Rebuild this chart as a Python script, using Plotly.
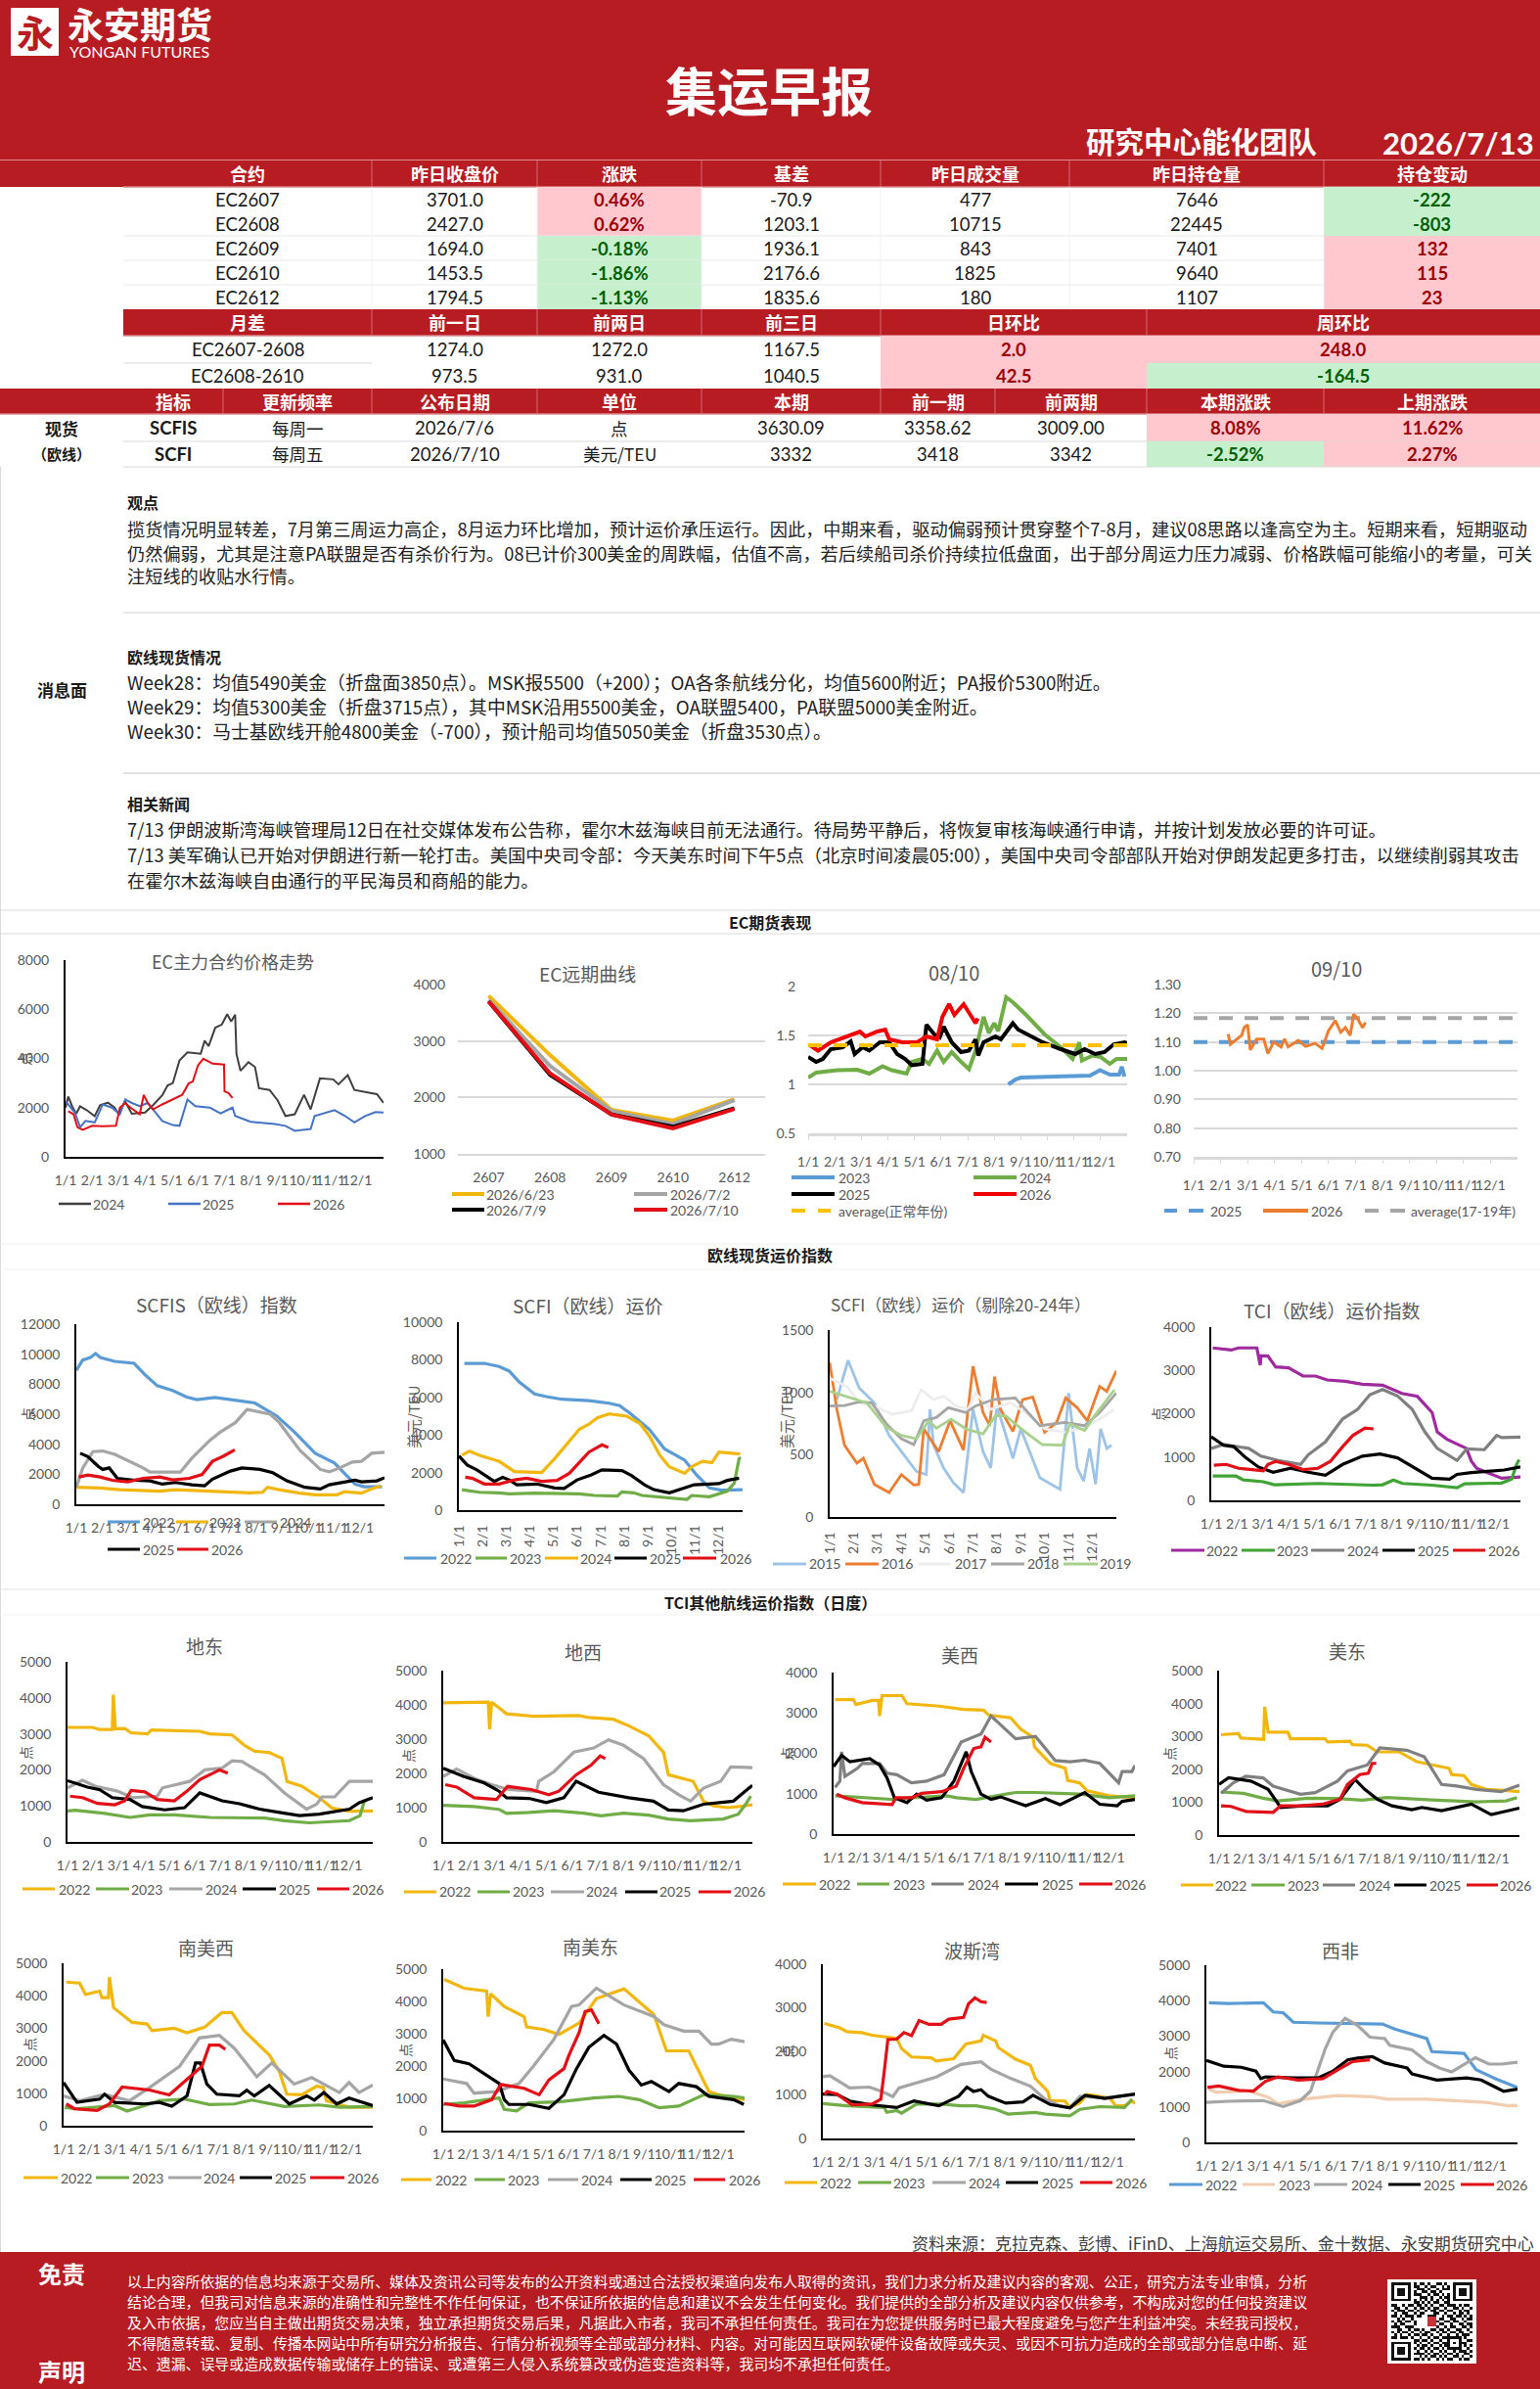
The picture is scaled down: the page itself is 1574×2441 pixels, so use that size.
import plotly.graph_objects as go

W, H = 1574, 2441
RED = "#B71C23"
INK = "#1A1A1A"
AXIS_GREY = "#595959"
GRID = "#D9D9D9"
PINK, GREEN_BG = "#FFC7CE", "#C6EFCE"
PINK_TX, GREEN_TX = "#9C0006", "#006100"
FONT = "Lato, 'Noto Sans CJK SC', 'Noto Sans', sans-serif"
CJK = "'Noto Sans CJK SC', Lato, sans-serif"

# ---------- daily table ----------
CONTRACT_HEAD = ["合约", "昨日收盘价", "涨跌", "基差", "昨日成交量", "昨日持仓量", "持仓变动"]
CONTRACTS = ["EC2607", "EC2608", "EC2609", "EC2610", "EC2612"]
CLOSE = [3701.0, 2427.0, 1694.0, 1453.5, 1794.5]
CHANGE = ["0.46%", "0.62%", "-0.18%", "-1.86%", "-1.13%"]
BASIS = ["-70.9", "1203.1", "1936.1", "2176.6", "1835.6"]
VOLUME = ["477", "10715", "843", "1825", "180"]
OPEN_INT = ["7646", "22445", "7401", "9640", "1107"]
OI_CHANGE = ["-222", "-803", "132", "115", "23"]

SPREAD_HEAD = ["月差", "前一日", "前两日", "前三日", "日环比", "周环比"]
SPREADS = ["EC2607-2608", "EC2608-2610"]
SPREAD_D1 = ["1274.0", "973.5"]
SPREAD_D2 = ["1272.0", "931.0"]
SPREAD_D3 = ["1167.5", "1040.5"]
SPREAD_DOD = ["2.0", "42.5"]
SPREAD_WOW = ["248.0", "-164.5"]

SPOT_HEAD = ["指标", "更新频率", "公布日期", "单位", "本期", "前一期", "前两期", "本期涨跌", "上期涨跌"]
SPOT_ROWS = [
    ["SCFIS", "每周一", "2026/7/6", "点", "3630.09", "3358.62", "3009.00", "8.08%", "11.62%"],
    ["SCFI", "每周五", "2026/7/10", "美元/TEU", "3332", "3418", "3342", "-2.52%", "2.27%"],
]

# ---------- commentary ----------
VIEW_LINES = [
    "揽货情况明显转差，7月第三周运力高企，8月运力环比增加，预计运价承压运行。因此，中期来看，驱动偏弱预计贯穿整个7-8月，建议08思路以逢高空为主。短期来看，短期驱动",
    "仍然偏弱，尤其是注意PA联盟是否有杀价行为。08已计价300美金的周跌幅，估值不高，若后续船司杀价持续拉低盘面，出于部分周运力压力减弱、价格跌幅可能缩小的考量，可关",
    "注短线的收贴水行情。",
]
SPOT_LINES = [
    "Week28：均值5490美金（折盘面3850点）。MSK报5500（+200）；OA各条航线分化，均值5600附近；PA报价5300附近。",
    "Week29：均值5300美金（折盘3715点），其中MSK沿用5500美金，OA联盟5400，PA联盟5000美金附近。",
    "Week30：马士基欧线开舱4800美金（-700），预计船司均值5050美金（折盘3530点）。",
]
NEWS_LINES = [
    "7/13 伊朗波斯湾海峡管理局12日在社交媒体发布公告称，霍尔木兹海峡目前无法通行。待局势平静后，将恢复审核海峡通行申请，并按计划发放必要的许可证。",
    "7/13 美军确认已开始对伊朗进行新一轮打击。美国中央司令部：今天美东时间下午5点（北京时间凌晨05:00），美国中央司令部部队开始对伊朗发起更多打击，以继续削弱其攻击",
    "在霍尔木兹海峡自由通行的平民海员和商船的能力。",
]
DISCLAIMER = [
    "以上内容所依据的信息均来源于交易所、媒体及资讯公司等发布的公开资料或通过合法授权渠道向发布人取得的资讯，我们力求分析及建议内容的客观、公正，研究方法专业审慎，分析",
    "结论合理，但我司对信息来源的准确性和完整性不作任何保证，也不保证所依据的信息和建议不会发生任何变化。我们提供的全部分析及建议内容仅供参考，不构成对您的任何投资建议",
    "及入市依据，您应当自主做出期货交易决策，独立承担期货交易后果，凡据此入市者，我司不承担任何责任。我司在为您提供服务时已最大程度避免与您产生利益冲突。未经我司授权，",
    "不得随意转载、复制、传播本网站中所有研究分析报告、行情分析视频等全部或部分材料、内容。对可能因互联网软硬件设备故障或失灵、或因不可抗力造成的全部或部分信息中断、延",
    "迟、遗漏、误导或造成数据传输或储存上的错误、或遭第三人侵入系统篡改或伪造变造资料等，我司均不承担任何责任。",
]

MONTHS = ["1/1", "2/1", "3/1", "4/1", "5/1", "6/1", "7/1", "8/1", "9/1", "10/1", "11/1", "12/1"]
TENORS = ["2607", "2608", "2609", "2610", "2612"]

# ---------- series: (months since Jan 1, value) ----------
EC_MAIN_2024 = [(0,2000),(0.1,2450),(0.25,2050),(0.4,1750),(0.55,2050),(0.8,1900),(1.1,1650),(1.3,2100),(1.6,2200),(1.85,2000),(2.0,1750),(2.25,2250),(2.5,1750),(3,1800),(3.3,2100),(3.65,2500),(3.85,2900),(4.05,3000),(4.3,3920),(4.6,4250),(5.1,4190),(5.25,4720),(5.4,4500),(5.65,5250),(5.9,5380),(6.1,5800),(6.25,5500),(6.4,5780),(6.45,4180),(6.6,3500),(6.9,3850),(7.15,3650),(7.3,2790),(7.7,2720),(8.0,2300),(8.3,1660),(8.65,1730),(9,2520),(9.25,1930),(9.6,3190),(10.1,3150),(10.3,2950),(10.65,3320),(10.9,2720),(11.5,2600),(11.75,2550),(12,2190)]
EC_MAIN_2025 = [(0,2260),(0.35,1800),(0.55,1200),(0.75,1460),(1.1,1400),(1.4,2130),(1.75,2000),(2.05,1730),(2.25,2330),(2.5,2190),(2.8,2060),(3.1,2190),(3.4,1800),(3.65,1460),(4.05,1290),(4.3,1260),(4.6,2330),(4.9,2060),(5.45,2000),(5.85,1770),(6.3,2000),(6.4,1660),(7,1420),(7.9,1330),(8.3,1260),(8.65,1060),(9.25,1130),(9.4,1660),(10.15,1900),(10.55,1660),(10.9,1400),(11.3,1660),(11.7,1820),(12,1800)]
EC_MAIN_2026 = [(0.1,1860),(0.3,1730),(0.45,1200),(0.65,1100),(1.0,1260),(1.4,1240),(1.9,1260),(2.05,2000),(2.25,2190),(2.45,2000),(2.8,1730),(2.95,2520),(3.1,2190),(3.3,1930),(3.65,2130),(4.05,2330),(4.4,2520),(4.65,2990),(4.8,3060),(5.0,3720),(5.2,3990),(5.55,3790),(5.98,3750),(6.0,2660),(6.15,2590),(6.3,2390)]

CURVE_0623 = [3800, 2750, 1780, 1590, 1970]
CURVE_0702 = [3730, 2560, 1760, 1530, 1950]
CURVE_0709 = [3700, 2400, 1700, 1480, 1810]
CURVE_0710 = CLOSE

SP0810_2023 = [(7.53,1.0),(7.8,1.05),(8,1.07),(10.2,1.085),(10.6,1.09),(10.98,1.145),(11.35,1.10),(11.7,1.10),(11.8,1.18),(11.9,1.08)]
SP0810_2024 = [(0,1.07),(0.3,1.12),(1.1,1.145),(1.85,1.15),(2.3,1.11),(2.8,1.185),(3.15,1.145),(3.7,1.11),(3.9,1.23),(4.3,1.26),(4.55,1.21),(4.85,1.345),(5.1,1.23),(5.4,1.33),(5.7,1.245),(6.05,1.155),(6.3,1.345),(6.6,1.69),(6.8,1.525),(7,1.625),(7.15,1.545),(7.45,1.89),(7.7,1.84),(8.2,1.71),(8.9,1.51),(9.5,1.38),(9.95,1.26),(10.2,1.43),(10.3,1.245),(10.7,1.295),(11,1.28),(11.35,1.21),(11.6,1.26),(12,1.26)]
SP0810_2025 = [(0,1.28),(0.3,1.23),(0.55,1.26),(0.85,1.36),(1.3,1.38),(1.6,1.44),(1.75,1.31),(2.05,1.38),(2.3,1.345),(2.7,1.43),(3.05,1.43),(3.35,1.31),(3.65,1.26),(3.9,1.195),(4.3,1.21),(4.45,1.61),(4.75,1.51),(4.95,1.48),(5.1,1.59),(5.4,1.43),(5.75,1.33),(6.05,1.345),(6.3,1.46),(6.4,1.295),(6.6,1.43),(7.05,1.49),(7.25,1.46),(7.7,1.625),(7.9,1.56),(8.75,1.44),(9.5,1.36),(10.05,1.31),(10.4,1.36),(10.8,1.31),(11.15,1.33),(11.5,1.41),(11.9,1.43),(12,1.42)]
SP0810_2026 = [(0.1,1.395),(0.37,1.345),(0.85,1.43),(1.4,1.49),(1.95,1.54),(2.15,1.49),(2.6,1.54),(2.9,1.56),(3.05,1.46),(3.55,1.43),(4.1,1.43),(4.45,1.49),(4.85,1.46),(5.05,1.69),(5.3,1.82),(5.5,1.71),(5.85,1.82),(6.15,1.69),(6.3,1.625),(6.38,1.675)]
SP0810_AVG = [(0,1.40),(12,1.40)]

SP0910_2025 = [(0,1.10),(12,1.10)]
SP0910_AVG = [(0,1.183),(12,1.183)]
SP0910_2026 = [(1.28,1.128),(1.36,1.092),(1.78,1.123),(1.87,1.15),(2.0,1.16),(2.1,1.072),(2.33,1.11),(2.6,1.11),(2.75,1.06),(2.97,1.10),(3.24,1.083),(3.37,1.11),(3.5,1.083),(3.88,1.105),(4.15,1.085),(4.5,1.095),(4.76,1.078),(5,1.14),(5.25,1.174),(5.45,1.134),(5.62,1.15),(5.8,1.123),(5.93,1.197),(6.08,1.18),(6.26,1.15),(6.36,1.168)]

SCFIS_2022 = [(0,8920),(0.25,9610),(0.55,9780),(0.75,10040),(0.93,9780),(1.5,9520),(2.25,9390),(2.7,8590),(3.15,7900),(3.75,7580),(4.3,7140),(4.7,6970),(5.4,7120),(6.2,6930),(6.95,6750),(7.8,5890),(8.5,4800),(9.3,3400),(10.05,2750),(10.85,1340),(11.2,1170),(11.9,1170)]
SCFIS_2023 = [(0,1130),(0.93,1080),(1.7,970),(2.7,910),(3.25,870),(3.85,970),(4.8,910),(5.8,800),(6.75,760),(7.25,800),(7.45,1130),(7.9,970),(8.7,740),(9.3,630),(10.15,630),(10.45,840),(11.1,740),(11.5,1020),(11.85,1230)]
SCFIS_2024 = [(0,1130),(0.25,2420),(0.65,3510),(1.03,3550),(1.5,3330),(2.1,2860),(2.6,2420),(2.87,2140),(4.05,2140),(4.5,3070),(5.2,4260),(5.6,4800),(6.2,5450),(6.65,6320),(7.55,6000),(7.9,5450),(8.7,3610),(9.5,2320),(9.85,2160),(10.25,2420),(10.75,2810),(11.1,2860),(11.5,3400),(12,3460)]
SCFIS_2025 = [(0.15,3400),(0.45,3180),(0.85,2530),(1.03,2320),(1.28,2420),(1.6,1730),(2.3,1600),(2.87,1560),(3.35,1340),(3.85,1450),(4.5,1300),(5,1230),(5.3,1670),(6,2210),(6.45,2420),(7.15,2320),(7.65,2100),(8.2,1560),(8.9,1130),(9.5,1020),(9.85,1300),(10.45,1450),(10.85,1600),(11.1,1490),(11.7,1560),(12,1770)]
SCFIS_2026 = [(0.1,1820),(0.45,1950),(0.93,1820),(1.4,1600),(2,1490),(2.6,1730),(3.25,1820),(3.75,1620),(4.4,1730),(4.9,1990),(5.3,2860),(5.7,3180),(6.17,3630.09)]

SCFI_2022 = [(0.23,7810),(1.08,7810),(1.7,7640),(2.13,7400),(2.55,6820),(3.2,6180),(3.7,6040),(4.35,5900),(5.5,5830),(6.35,5690),(6.8,5560),(7.3,5090),(8.05,4310),(8.7,3260),(9.55,2660),(10.05,1880),(10.6,1180),(11.1,1060),(12,1090)]
SCFI_2023 = [(0.13,1090),(0.87,950),(1.7,920),(2.13,870),(3.2,900),(5.1,870),(5.73,780),(6.7,750),(6.9,970),(7.4,920),(7.75,780),(8.9,630),(9.65,570),(9.85,780),(10.6,710),(11.35,1010),(11.65,1440),(11.85,2740),(11.92,2800)]
SCFI_2024 = [(0.13,2920),(0.45,3140),(0.87,2920),(1.4,2690),(1.7,2600),(2.35,2050),(3.5,2000),(4.05,2740),(4.45,3350),(5.1,4310),(5.5,4570),(5.85,4910),(6.35,5120),(7.1,5000),(7.65,4620),(8.05,3960),(8.5,2920),(8.9,2310),(9.55,1960),(9.85,2310),(10.3,2600),(10.7,2530),(11,3090),(11.9,2990)]
SCFI_2025 = [(0,2880),(0.35,2400),(0.76,2140),(1.2,1750),(1.5,1530),(1.85,1740),(2.13,1610),(2.45,1350),(3.3,1390),(4.05,1180),(4.45,1150),(5,1610),(5.6,1880),(6.05,2140),(6.9,2100),(7.3,1840),(7.85,1350),(8.25,1090),(8.9,920),(9.55,1180),(9.95,1350),(11,1410),(11.35,1580),(11.85,1700)]
SCFI_2026 = [(0.27,1750),(0.55,1700),(1.08,1390),(1.7,1390),(2.35,1610),(2.87,1700),(3.5,1530),(4.15,1580),(4.67,1960),(5.1,2570),(5.5,3090),(6.05,3470),(6.32,3332)]

SCFI_2015 = [(0.3,942),(0.77,1257),(1.24,1034),(1.87,916),(2.49,654),(3.1,497),(3.63,366),(4.04,340),(4.2,864),(4.35,576),(4.77,393),(5.18,275),(5.6,196),(6,864),(6.42,524),(6.74,393),(7,890),(7.67,471),(8,707),(8.8,314),(9.64,222),(9.95,864),(10,995),(10.36,393),(10.63,288),(10.88,550),(11.13,262),(11.34,707),(11.6,550),(11.8,576)]
SCFI_2016 = [(0,1238),(0.3,864),(0.62,576),(1.14,432),(1.41,471),(1.87,262),(2.49,196),(3,340),(3.52,257),(3.73,262),(3.94,707),(4.56,524),(5.04,772),(5.6,537),(6,1210),(6.42,838),(6.7,733),(6.9,1126),(7.15,864),(7.67,686),(7.94,864),(8.08,942),(8.5,963),(9,681),(9.5,759),(9.88,955),(10.36,877),(10.78,772),(11.3,1047),(11.6,1008),(12,1173)]
SCFI_2017 = [(0,1113),(0.72,1047),(1.24,916),(1.87,890),(2.6,825),(3.42,851),(3.83,1021),(4.35,942),(4.77,969),(5.3,890),(5.8,864),(6.1,995),(6.74,864),(7.56,916),(8.2,838),(9,707),(9.85,681),(10.67,720),(11.3,785),(11.9,864)]
SCFI_2018 = [(0,890),(0.62,895),(1.24,924),(1.76,916),(2.38,746),(3,628),(3.52,581),(3.94,772),(4.46,798),(4.97,877),(5.7,838),(6.1,890),(6.84,942),(7.77,955),(8.3,838),(8.8,733),(9.85,759),(10.67,733),(11.3,838),(12,995)]
SCFI_2019 = [(0,1008),(0.93,955),(1.55,916),(2.38,720),(3,654),(3.63,628),(4.15,772),(4.46,712),(5.08,785),(5.7,707),(6.42,667),(6.94,812),(7.36,812),(8.2,681),(8.9,581),(9.74,576),(10.05,746),(10.67,694),(11.09,812),(11.92,1021)]

TCI_2022 = [(0.06,3520),(0.77,3470),(1.06,3520),(1.77,3520),(1.9,3120),(1.93,3340),(2.2,3330),(2.5,3080),(3,3060),(3.56,2870),(4.05,2870),(4.5,2780),(5.2,2750),(5.87,2680),(6.65,2660),(6.94,2590),(7.4,2470),(8,2400),(8.57,2030),(8.77,1580),(9.15,1410),(9.9,1200),(10.1,900),(10.3,740),(10.9,600),(11.27,510),(12,540)]
TCI_2023 = [(0.06,560),(0.96,560),(1.25,470),(2.02,430),(2.45,360),(4.14,390),(6.26,350),(6.65,360),(7.07,470),(7.42,390),(8.57,350),(9.54,290),(9.83,380),(11.27,400),(11.66,490),(11.85,830),(11.95,940)]
TCI_2024 = [(0,1200),(0.48,1290),(1.45,1200),(1.93,1020),(2.6,920),(3.47,830),(3.76,1050),(4.43,1350),(5.1,1880),(5.68,2100),(6.16,2440),(6.65,2560),(7.23,2410),(7.8,2100),(8.29,1580),(8.77,1200),(9.54,920),(9.92,1190),(10.6,1170),(11.08,1500),(11.27,1450),(12,1460)]
TCI_2025 = [(0,1470),(0.48,1270),(0.87,1240),(1.35,980),(1.83,770),(2.4,650),(3.08,740),(3.76,650),(4.43,580),(5.1,830),(5.87,1020),(6.55,1070),(7.23,980),(8,710),(8.57,510),(9.25,490),(9.54,600),(10.1,640),(10.8,680),(11.37,700),(12,770)]
TCI_2026 = [(0.1,810),(0.58,830),(1.06,740),(2.02,680),(2.2,830),(2.5,900),(3,830),(3.56,710),(4.14,740),(4.62,900),(5.1,1240),(5.5,1500),(5.97,1670),(6.3,1650)]

MED_E_2022 = [(0,3180),(0.98,3180),(1.27,3120),(1.76,3120),(1.8,4090),(1.88,3140),(2.25,3150),(2.5,3030),(3.14,3000),(3.3,3110),(5.2,3070),(5.6,3000),(6.47,2970),(6.96,2680),(7.35,2520),(7.94,2480),(8.43,2320),(8.63,1680),(9.2,1550),(9.9,1230),(10.4,940),(11.08,850),(12,860)]
MED_E_2023 = [(0,860),(0.3,880),(1.47,790),(2.45,680),(3.24,750),(4.2,750),(5.6,680),(6.57,680),(7.75,660),(8.53,590),(9.5,530),(11.08,590),(11.5,730),(11.67,1140)]
MED_E_2024 = [(0,1500),(0.59,1710),(1.08,1550),(1.96,1410),(2.55,1230),(3.53,1270),(3.73,1500),(4.8,1680),(5.4,2000),(6.08,2050),(6.47,2250),(6.86,2230),(7.75,1860),(8.53,1360),(9.4,910),(9.8,1050),(10,1250),(10.5,1250),(11.08,1680),(12,1680)]
MED_E_2025 = [(0,1700),(0.78,1520),(1.27,1450),(1.76,1230),(2.45,1180),(2.94,980),(3.82,890),(4.6,950),(5.2,1360),(5.6,1270),(6.08,1140),(6.76,1060),(7.55,910),(8.33,820),(9.12,730),(9.9,770),(11.08,910),(11.47,1090),(12,1230)]
MED_E_2026 = [(0.1,1270),(0.59,1230),(1.18,1070),(1.86,1030),(2.25,1140),(2.5,1430),(3.04,1390),(3.53,1180),(4.2,1140),(4.7,1410),(5.2,1730),(5.98,2000),(6.3,1910)]

MED_W_2022 = [(0,4060),(1,4080),(1.75,4080),(1.8,3290),(1.88,4080),(2.46,3740),(3.52,3670),(5.26,3690),(5.65,3630),(6.6,3580),(7.2,3390),(7.97,3100),(8.55,2620),(8.74,1960),(9.7,1770),(10.1,1190),(10.5,1050),(11.06,1000),(12,1080)]
MED_W_2023 = [(0,1070),(1.2,1030),(2.17,950),(2.46,830),(3.33,860),(4.3,910),(5.45,840),(6.13,760),(7,840),(7.97,780),(8.74,670),(9.6,620),(10.87,670),(11.45,810),(11.74,1100),(11.94,1340)]
MED_W_2024 = [(0,1910),(0.52,2130),(1.2,1860),(1.88,1670),(2.55,1530),(3.62,1480),(3.71,1770),(4.3,2050),(5.07,2620),(5.84,2740),(6.42,2980),(7,2820),(7.78,2430),(8.55,1670),(9.13,1380),(9.6,1190),(10.1,1570),(10.77,1770),(11.16,2190),(12,2170)]
MED_W_2025 = [(0,2150),(0.81,1910),(1.59,1720),(2.17,1480),(2.46,1290),(3.33,1270),(4,1150),(4.68,1290),(5.16,1770),(5.45,1670),(6.03,1450),(7.2,1290),(8.16,1190),(8.74,930),(9.32,910),(10.1,1100),(11.26,1190),(11.64,1430),(12,1650)]
MED_W_2026 = [(0.08,1670),(0.52,1600),(1.2,1290),(2.07,1240),(2.5,1620),(3.42,1530),(4.1,1380),(4.49,1480),(5.16,1960),(5.74,2240),(6.09,2510),(6.29,2430)]

USW_2022 = [(0.06,3330),(0.79,3330),(0.89,3210),(1.54,3310),(1.79,3310),(1.83,2925),(1.93,3430),(2.72,3430),(2.92,3230),(4.2,3170),(5.18,3090),(5.97,3070),(6.17,2950),(7.05,2880),(7.45,2600),(7.94,2400),(8,2160),(8.63,1750),(9.22,1630),(9.32,1330),(9.8,1270),(10.1,1070),(10.98,950),(12,900)]
USW_2023 = [(0.06,950),(1.14,900),(2.3,860),(3.1,900),(4.5,950),(4.9,900),(5.68,860),(6.86,990),(7.25,1030),(8.04,1030),(9.8,990),(10.98,900),(12,950)]
USW_2024 = [(0.06,1160),(0.25,1310),(0.32,2040),(0.45,1430),(0.95,1630),(1.14,1750),(1.83,1750),(2.13,1510),(2.52,1470),(3.1,1270),(3.7,1310),(4.4,1470),(5.08,2280),(5.87,2480),(6.27,2925),(6.86,2600),(7.25,2360),(8.04,2420),(8.83,1820),(9.42,1790),(10,1830),(10.6,1750),(11.35,1270),(11.49,1550),(11.88,1550),(12,1700)]
USW_2025 = [(0,1670),(0.32,1950),(0.65,1790),(1.44,1870),(1.83,1710),(2.13,1390),(2.42,900),(2.92,780),(3.31,990),(3.7,840),(4.3,900),(4.79,1310),(5.28,2040),(5.48,1550),(5.87,990),(6.27,860),(6.66,920),(7.65,700),(8.43,880),(9.02,730),(10,1030),(10.6,740),(11.29,700),(11.49,810),(12,860)]
USW_2026 = [(0.12,990),(0.45,900),(1.14,780),(2.33,730),(2.48,900),(3.1,900),(3.5,1010),(4.3,1050),(4.88,1190),(5.18,1630),(5.58,2120),(5.87,2160),(6.03,2400),(6.27,2280)]

USE_2022 = [(0.08,3050),(0.77,3090),(0.87,2950),(1.78,2910),(1.82,3900),(1.96,3130),(2.75,3130),(2.85,2930),(4.24,2930),(4.34,2830),(5.23,2850),(5.33,2750),(5.92,2730),(6.32,2530),(7.2,2530),(7.9,2230),(8.4,2150),(9.19,2030),(9.29,1840),(9.78,1810),(10.08,1540),(10.67,1390),(11.37,1360),(12,1320)]
USE_2023 = [(0.08,1310),(0.97,1270),(1.76,1120),(2.36,1040),(3.54,1120),(4.73,1110),(5.72,1060),(6.71,1140),(8.5,1070),(9.49,1040),(10.28,1010),(11.47,1040),(11.9,1140)]
USE_2024 = [(0.08,1270),(0.57,1590),(1.07,1790),(1.76,1740),(2.16,1490),(3.25,1240),(3.84,1290),(4.73,1640),(5.13,1950),(5.92,2130),(6.42,2650),(7.5,2580),(8.2,2380),(8.89,1540),(9.49,1490),(10.28,1390),(11.27,1320),(12,1520)]
USE_2025 = [(0,1540),(0.38,1740),(1.27,1640),(1.96,1390),(2.46,840),(3.35,890),(4.34,890),(4.83,1090),(5.43,1690),(5.82,1390),(6.32,1090),(6.91,890),(7.7,770),(8.1,840),(8.89,740),(10.08,940),(10.87,620),(11.27,690),(12,820)]
USE_2026 = [(0.08,890),(0.48,870),(1.07,720),(2.16,690),(2.46,890),(3.25,890),(4.14,940),(4.83,1090),(5.13,1540),(5.62,1840),(5.96,1880),(6.12,2180),(6.28,2180)]

SAW_2022 = [(0.1,4420),(0.62,4390),(0.85,4040),(1.4,4140),(1.49,3940),(1.74,3940),(1.78,4570),(1.94,3630),(2.66,3180),(3.24,3130),(3.43,2930),(4.3,3000),(4.79,2860),(5.47,3030),(6.14,3480),(6.53,3480),(7,2930),(7.98,2180),(8.37,1680),(8.66,970),(9.24,950),(9.83,1220),(10.08,1170),(10.2,770),(11.08,570),(12,570)]
SAW_2023 = [(0.04,570),(0.43,520),(1.98,620),(2.46,450),(3.14,620),(3.72,770),(4.69,820),(5.66,650),(6.63,670),(7.3,790),(8.57,590),(9.92,640),(10.7,570),(12,590)]
SAW_2024 = [(0,920),(0.62,770),(1.59,970),(2.56,770),(3.33,1170),(4.5,1830),(5.27,2700),(6.05,2780),(6.63,2380),(7.5,1510),(8.08,1930),(8.95,1280),(9.63,1480),(10.7,1020),(11.08,1330),(11.47,1020),(12,1250)]
SAW_2025 = [(0,1330),(0.52,720),(1.4,820),(1.59,970),(1.98,720),(3.14,670),(3.72,720),(4.2,600),(4.79,920),(5.12,1930),(5.31,1930),(5.56,1280),(5.95,970),(6.82,920),(7.11,1090),(7.4,920),(7.98,1240),(8.37,970),(8.76,670),(9.44,920),(9.73,790),(10.1,1020),(10.6,670),(11.08,850),(12,620)]
SAW_2026 = [(0.1,670),(0.43,520),(1.3,470),(1.78,670),(2.27,1190),(3.33,1100),(4.1,950),(4.88,1480),(5.37,1830),(5.66,2480),(6.05,2480),(6.28,2350)]

SAE_2022 = [(0.04,4680),(0.83,4410),(1.73,4320),(1.79,3530),(1.89,4240),(2.43,3840),(3.22,3530),(3.32,3210),(4.02,3130),(4.61,2980),(5.41,3330),(6.1,4090),(7.2,4390),(8.39,3590),(8.89,2470),(9.78,2470),(10.58,1210),(10.97,1110),(12,960)]
SAE_2023 = [(0,810),(0.83,860),(2.23,1010),(2.43,660),(2.92,610),(3.42,860),(4.61,890),(6,1010),(7,1060),(7.8,960),(8.59,710),(9.38,760),(10.38,1110),(11.57,1060),(12,1010)]
SAE_2024 = [(0,1600),(0.93,1460),(1.23,1160),(2.13,1210),(3.02,1460),(3.62,2020),(4.41,2830),(5.11,3840),(5.41,3890),(6.1,4410),(7.2,3890),(8.39,3530),(8.79,3280),(9.58,3080),(10.18,3080),(10.68,2680),(10.97,2680),(11.47,2830),(12,2750)]
SAE_2025 = [(0,2810),(0.44,2170),(1.03,2070),(1.73,1720),(2.23,1460),(2.43,960),(2.62,810),(3.42,810),(4.21,690),(4.81,1110),(5.31,1920),(5.8,2580),(6.4,2950),(6.9,2680),(7.4,1870),(7.89,1410),(8.29,1520),(8.99,1210),(9.38,1460),(10.08,1360),(10.58,1060),(11.57,960),(11.97,810)]
SAE_2026 = [(0.04,840),(0.64,760),(1.23,760),(1.93,960),(2.29,1430),(3.22,1310),(3.82,1110),(4.21,1570),(4.81,1920),(5,2320),(5.41,3030),(5.65,3690),(5.9,3740),(6.2,3310)]

PG_2022 = [(0.06,2640),(0.65,2540),(0.93,2450),(1.5,2430),(1.89,2370),(2.84,2300),(3.03,2060),(3.41,1870),(4.17,1850),(4.36,1780),(5.03,1830),(5.5,2170),(6.08,2240),(6.17,2370),(6.65,2240),(6.74,2090),(7.41,1820),(7.98,1680),(8.17,1380),(8.65,1080),(8.74,870),(9.31,860),(9.5,710),(9.89,820),(10.17,1010),(11.03,930),(11.26,750),(11.6,750),(11.89,860),(12,800)]
PG_2023 = [(0,800),(0.93,750),(2.36,710),(2.46,600),(2.84,640),(3.03,580),(3.6,790),(4.55,790),(5.31,750),(5.89,750),(6.65,670),(7.12,560),(8.17,600),(8.55,560),(9.5,520),(9.89,670),(10.65,730),(11.6,710),(11.89,900)]
PG_2024 = [(0,1420),(0.27,1440),(1.03,1160),(1.79,1180),(2.27,1080),(2.69,960),(2.93,1160),(3.6,1270),(4.36,1410),(5.31,1700),(6.08,1760),(6.46,1590),(7.22,1380),(7.98,1200),(8.55,900),(9.12,750),(9.5,710),(9.89,970),(10.84,930),(12,1010)]
PG_2025 = [(0,1020),(0.55,1010),(1.03,860),(1.89,770),(2.84,710),(3.5,860),(4.46,750),(5.22,970),(5.54,1180),(5.79,1080),(6.08,1120),(6.36,970),(7.03,810),(7.7,840),(8.08,990),(8.74,780),(9.5,700),(10.08,990),(10.84,920),(11.41,970),(12,1020)]
PG_2026 = [(0.06,1010),(0.17,1080),(0.55,1020),(1.12,770),(1.89,790),(2.23,900),(2.36,1530),(2.5,2270),(2.84,2280),(3.12,2430),(3.41,2360),(3.7,2710),(4.08,2620),(4.55,2620),(4.84,2740),(5.41,2780),(5.6,3090),(5.85,3230),(6.08,3140),(6.3,3120)]

WAF_2022 = [(0.1,3940),(0.86,3920),(2.2,3940),(2.58,3680),(2.96,3660),(3.35,3390),(4.3,3370),(6.79,3340),(7.27,3200),(8.5,2930),(8.7,2560),(9.94,2510),(10.4,2050),(11.2,1780),(12,1550)]
WAF_2023 = [(0.1,1500),(0.38,1410),(1.63,1450),(2.39,1270),(2.77,1090),(3.73,1220),(5.07,1320),(6.4,1290),(6.98,1220),(8.5,1220),(10.8,1130),(11.57,1040),(12,1040)]
WAF_2024 = [(0,1130),(0.86,1160),(2.2,1180),(2.96,1010),(3.63,1180),(4.02,1450),(4.59,2650),(4.88,3110),(5.35,3500),(5.83,3300),(6.31,2970),(6.88,2930),(7.07,2740),(7.93,2610),(8.5,2280),(8.99,2100),(9.46,1990),(9.85,2150),(10.38,2390),(10.9,2210),(11.38,2210),(12,2260)]
WAF_2025 = [(0,2310),(0.67,2150),(1.34,2120),(1.91,2010),(2.1,1800),(2.29,1850),(3.35,1820),(4.3,1820),(4.88,2010),(5.45,2330),(5.83,2380),(6.4,2420),(6.88,2240),(7.74,2100),(7.93,1930),(8.5,1820),(8.89,1760),(10.04,1820),(10.6,1760),(11.47,1440),(12,1500)]
WAF_2026 = [(0.04,1550),(0.48,1590),(1.24,1470),(1.82,1450),(2.29,1730),(2.77,1850),(3.54,1760),(4.49,1800),(5.07,2050),(5.64,2280),(6.31,2330)]

# module pattern for the contact code in the footer
QR_ROWS = [
    "11111110101101001101001111111",
    "10000010110010110010101000001",
    "10111010011101001011101011101",
    "10111010100110110100001011101",
    "10111010111001011010101011101",
    "10000010001110100101101000001",
    "11111110101010101010101111111",
    "00000000110101011001100000000",
    "11001011011010100110111010110",
    "01100100101101011001001101001",
    "10111011010010110110110010110",
    "01001100101100011001001011010",
    "11010111011001110010110110101",
    "00101001000000000110011001011",
    "10110110100000001001101100100",
    "01011000100000000110010011011",
    "11100111000000001001011001101",
    "00110010110100110110100110010",
    "10101101001011001011011011001",
    "01010010110110100100100101110",
    "11011101001001011011111110100",
    "00000000110110100100100010011",
    "11111110101001011011101011100",
    "10000010010110100101100010101",
    "10111010101101011010111110010",
    "10111010010010100101001011101",
    "10111010111101011010110100110",
    "10000010001010110101001101001",
    "11111110110101001010110010110",
]

# ---------- helpers working in page pixels ----------
shapes, notes = [], []


def px(x):
    return x / W


def py(y):
    return 1 - y / H


def rect(x0, y0, x1, y1, fill, layer="below"):
    shapes.append(dict(type="rect", xref="paper", yref="paper", x0=px(x0), x1=px(x1), y0=py(y0), y1=py(y1),
                       fillcolor=fill, line=dict(width=0), layer=layer))


def rule(x0, y0, x1, y1, color, width=1, layer="below"):
    shapes.append(dict(type="line", xref="paper", yref="paper", x0=px(x0), x1=px(x1), y0=py(y0), y1=py(y1),
                       line=dict(color=color, width=width), layer=layer))


def text(x, y, s, size=15, color=INK, bold=False, anchor="left", font=FONT, angle=0):
    body = f"<b>{s}</b>" if bold else s
    notes.append(dict(xref="paper", yref="paper", x=px(x), y=py(y), text=body, showarrow=False,
                      xanchor=anchor, yanchor="middle", textangle=angle,
                      font=dict(family=font, size=size, color=color), borderpad=0, borderwidth=0))


def cell(x0, x1, y0, y1, s, color=INK, size=18.5, bold=False, fill=None, font=FONT):
    if fill:
        rect(x0, y0, x1, y1, fill)
    text((x0 + x1) / 2, (y0 + y1) / 2, s, size=size, color=color, bold=bold, anchor="center", font=font)


def header(cols, y0, y1, labels):
    rect(cols[0], y0, cols[-1], y1, RED)
    rule(cols[0], y1, cols[-1], y1, "#D98A8E", 1.5)
    for x in cols[1:-1]:
        rule(x, y0, x, y1, "#D46A70", 1)
    for i, s in enumerate(labels):
        cell(cols[i], cols[i + 1], y0, y1, s, color="white", bold=True, size=18, font=CJK)


def signed(s):
    neg = s.startswith("-")
    return (GREEN_BG, GREEN_TX) if neg else (PINK, PINK_TX)


# ---------- banner ----------
rect(0, 0, W, 164, RED)
rule(0, 164, W, 164, "#E7B8BA", 1.5)
rect(11, 8, 60, 57, "white")
text(35.5, 32, "永", size=38, color=RED, bold=True, anchor="center", font=CJK)
text(69, 24, "永安期货", size=37, color="white", bold=True, font=CJK)
text(71, 52, "YONGAN FUTURES", size=16, color="white")
text(786, 91, "集运早报", size=53, color="white", bold=True, anchor="center", font=CJK)
text(1228, 143, "研究中心能化团队", size=29.5, color="white", bold=True, anchor="center", font=CJK)
text(1568, 146, "2026/7/13", size=31, color="white", bold=True, anchor="right")

# ---------- contract table ----------
C1 = [126, 380, 549, 717, 900, 1093, 1353, 1574]
R1 = [191, 216, 241, 266, 291, 316]
rect(0, 164, 126, 191, RED)
header(C1, 164, 191, CONTRACT_HEAD)
for i, name in enumerate(CONTRACTS):
    y0, y1 = R1[i], R1[i + 1]
    cell(C1[0], C1[1], y0, y1, name)
    cell(C1[1], C1[2], y0, y1, f"{CLOSE[i]:.1f}")
    fill, ink = signed(CHANGE[i])
    cell(C1[2], C1[3], y0, y1, CHANGE[i], color=ink, fill=fill, bold=True)
    cell(C1[3], C1[4], y0, y1, BASIS[i])
    cell(C1[4], C1[5], y0, y1, VOLUME[i])
    cell(C1[5], C1[6], y0, y1, OPEN_INT[i])
    fill, ink = signed(OI_CHANGE[i])
    cell(C1[6], C1[7], y0, y1, OI_CHANGE[i], color=ink, fill=fill, bold=True)
    if i in (1, 2, 3):
        rule(126, y1, 1353, y1, "#E8E8E8", 1)
for x in C1[1:-1]:
    rule(x, 191, x, 316, "#F0F0F0", 1)

# ---------- calendar spread table ----------
C2 = [126, 380, 549, 717, 900, 1172, 1574]
R2 = [343, 371, 397]
header(C2, 316, 343, SPREAD_HEAD)
for i, name in enumerate(SPREADS):
    y0, y1 = R2[i], R2[i + 1]
    cell(C2[0], C2[1], y0, y1, name)
    cell(C2[1], C2[2], y0, y1, SPREAD_D1[i])
    cell(C2[2], C2[3], y0, y1, SPREAD_D2[i])
    cell(C2[3], C2[4], y0, y1, SPREAD_D3[i])
    fill, ink = signed(SPREAD_DOD[i])
    cell(C2[4], C2[5], y0, y1, SPREAD_DOD[i], color=ink, fill=fill, bold=True)
    fill, ink = signed(SPREAD_WOW[i])
    cell(C2[5], C2[6], y0, y1, SPREAD_WOW[i], color=ink, fill=fill, bold=True)
rule(126, 371, 380, 371, "#D9D9D9", 1)

# ---------- spot index table ----------
C3 = [126, 228, 380, 549, 717, 900, 1017, 1172, 1353, 1574]
R3 = [423, 451, 477]
rect(0, 397, 126, 423, RED)
rule(0, 423, 126, 423, "#D98A8E", 1.5)
header(C3, 397, 423, SPOT_HEAD)
cell(0, 126, 423, 451, "现货", bold=True, size=17, font=CJK)
cell(0, 126, 451, 477, "（欧线）", bold=True, size=15, font=CJK)
for i, row in enumerate(SPOT_ROWS):
    y0, y1 = R3[i], R3[i + 1]
    for j, s in enumerate(row):
        fill, ink, bold = None, INK, j == 0
        if j >= 7:
            fill, ink = signed(s)
            bold = True
        cell(C3[j], C3[j + 1], y0, y1, s, color=ink, fill=fill, bold=bold,
             font=CJK if j in (1, 3) else FONT, size=17.5 if j in (1, 3) else 18.5)
    rule(126, y1, 1574, y1, "#D9D9D9", 1.2)

# ---------- commentary ----------
rule(0.5, 477, 0.5, 2301, "#D9D9D9", 1)
text(63, 704, "消息面", size=17, bold=True, anchor="center", font=CJK)
text(130, 513, "观点", size=16, bold=True, font=CJK)
for y, s in zip([540, 565, 588], VIEW_LINES):
    text(130, y, s, size=18.2, font=CJK, color="#222222")
rule(126, 626, W, 626, "#E3E3E3", 1.3)
text(130, 671, "欧线现货情况", size=16, bold=True, font=CJK)
for y, s in zip([696, 721, 746], SPOT_LINES):
    text(130, y, s, size=18.8, font=CJK, color="#222222")
rule(126, 790, W, 790, "#D9D9D9", 1.3)
text(130, 821, "相关新闻", size=16, bold=True, font=CJK)
for y, s in zip([847, 873, 899], NEWS_LINES):
    text(130, y, s, size=18.3, font=CJK, color="#222222")

# ---------- section captions ----------
rule(0, 930, W, 930, "#D9D9D9", 1)
rule(0, 954, W, 954, "#D9D9D9", 1)
text(787, 942, "EC期货表现", size=16, bold=True, anchor="center", font=CJK)
rule(0, 1271, W, 1271, "#EFEFEF", 1)
rule(0, 1297, W, 1297, "#F2F2F2", 1)
text(787, 1282, "欧线现货运价指数", size=16, bold=True, anchor="center", font=CJK)
rule(0, 1624, W, 1624, "#E3E3E3", 1)
rule(0, 1650, W, 1650, "#F2F2F2", 1)
text(787, 1637, "TCI其他航线运价指数（日度）", size=16, bold=True, anchor="center", font=CJK)

# ---------- footer ----------
text(1568, 2291, "资料来源：克拉克森、彭博、iFinD、上海航运交易所、金十数据、永安期货研究中心", size=17, color="#404040",
     anchor="right", font=CJK)
rect(0, 2301, W, H, RED)
text(63, 2322, "免责", size=24, color="white", bold=True, anchor="center", font=CJK)
text(63, 2422, "声明", size=24, color="white", bold=True, anchor="center", font=CJK)
for y, s in zip([2330, 2351, 2372, 2393, 2414], DISCLAIMER):
    text(130, y, s, size=14.9, color="white", font=CJK)
rect(1418, 2329, 1509, 2415, "white")

# ---------- line colours ----------
YEL, GRN, GRY, BLK, REDL, BLU = "#F2B70F", "#70AD47", "#A5A5A5", "#000000", "#E30F17", "#5B9BD5"

YR = ["2022", "2023", "2024", "2025", "2026"]


def route(title, cx, cy, box, ymax, data, colors, lab, leg, w=3.2):
    """Standard panel: yearly freight lines on a Jan-Dec axis, black left and bottom axes."""
    return dict(title=title, tx=cx, ty=cy, box=box, ymax=ymax, dtick=1000, w=w,
                series=[dict(name=YR[i], pts=data[i], color=colors[i]) for i in range(len(data))],
                lab=lab,
                legend=[(a, b, ly, lx, YR[i], colors[i]) for i, (a, b, lx, ly) in enumerate(leg)])


STD = [YEL, GRN, GRY, BLK, REDL]

PANELS = [
    dict(title="EC主力合约价格走势", tx=238, ty=982, size=18, box=(67, 981, 392, 1182), ymax=8000, dtick=2000, w=2, lab=(25, 1082),
         axis_w=2,
         series=[dict(name="2024", pts=EC_MAIN_2024, color="#404040"), dict(name="2025", pts=EC_MAIN_2025, color="#4472C4"),
                 dict(name="2026", pts=EC_MAIN_2026, color=REDL)],
         legend=[(60, 93, 1230, 95, "2024", "#404040"), (172, 205, 1230, 207, "2025", "#4472C4"), (284, 317, 1230, 320, "2026", REDL)],
         leg_h=2.5),
    dict(title="EC远期曲线", tx=600, ty=994, box=(468, 1006, 782, 1179), ymin=1000, ymax=4000, dtick=1000, w=4, cat=True, grid=True,
         series=[dict(name="2026/6/23", y=CURVE_0623, color=YEL), dict(name="2026/7/2", y=CURVE_0702, color=GRY),
                 dict(name="2026/7/9", y=CURVE_0709, color=BLK), dict(name="2026/7/10", y=CURVE_0710, color=REDL)],
         legend=[(462, 495, 1220, 497, "2026/6/23", YEL), (648, 682, 1220, 685, "2026/7/2", GRY),
                 (462, 495, 1236, 497, "2026/7/9", BLK), (648, 682, 1236, 685, "2026/7/10", REDL)], leg_h=4),
    dict(title="08/10", tx=975, ty=993, size=20, box=(826, 1008, 1152, 1158), ymin=0.5, ymax=2, dtick=0.5, fmt="~g", w=4, grid=True,
         series=[dict(name="2023", pts=SP0810_2023, color=BLU), dict(name="2024", pts=SP0810_2024, color=GRN),
                 dict(name="2025", pts=SP0810_2025, color=BLK), dict(name="2026", pts=SP0810_2026, color="#F00000"),
                 dict(name="average", pts=SP0810_AVG, color="#FFC000", dash="14px,12px")],
         legend=[(809, 853, 1203, 857, "2023", BLU), (995, 1039, 1203, 1042, "2024", GRN),
                 (809, 853, 1220, 857, "2025", BLK), (995, 1039, 1220, 1042, "2026", "#F00000")], leg_h=4,
         dashes=[((809, 823), (836, 849), 1237, 857, "average(正常年份)", "#FFC000")]),
    dict(title="09/10", tx=1366, ty=989, size=20, box=(1220, 1006, 1551, 1182), ymin=0.7, ymax=1.3, dtick=0.1, fmt=".2f", w=3, grid=True,
         series=[dict(name="2025", pts=SP0910_2025, color=BLU, dash="14px,12px", w=4), dict(name="average", pts=SP0910_AVG, color=GRY, dash="14px,12px", w=4),
                 dict(name="2026", pts=SP0910_2026, color="#ED7D31")],
         legend=[(1291, 1337, 1237, 1340, "2026", "#ED7D31")], leg_h=4,
         dashes=[((1190, 1203), (1215, 1230), 1237, 1237, "2025", BLU), ((1395, 1409), (1421, 1436), 1237, 1442, "average(17-19年)", GRY)]),
    dict(title="SCFIS（欧线）指数", tx=221, ty=1332, box=(78, 1353, 393, 1537), ymax=12000, dtick=2000, w=3.2, lab=(28, 1445),
         series=[dict(name="2022", pts=SCFIS_2022, color=BLU), dict(name="2023", pts=SCFIS_2023, color=YEL), dict(name="2024", pts=SCFIS_2024, color=GRY),
                 dict(name="2025", pts=SCFIS_2025, color=BLK), dict(name="2026", pts=SCFIS_2026, color=REDL)],
         legend=[(110, 143, 1555, 146, "2022", BLU), (180, 213, 1555, 214, "2023", YEL), (250, 283, 1555, 286, "2024", GRY),
                 (110, 143, 1583, 146, "2025", BLK), (181, 213, 1583, 216, "2026", REDL)]),
    dict(title="SCFI（欧线）运价", tx=601, ty=1333, box=(469, 1351, 759, 1543), ymax=10000, dtick=2000, w=3.2, rot=True,
         ytitle=(422, 1448),
         series=[dict(name="2022", pts=SCFI_2022, color=BLU), dict(name="2023", pts=SCFI_2023, color=GRN), dict(name="2024", pts=SCFI_2024, color=YEL),
                 dict(name="2025", pts=SCFI_2025, color=BLK), dict(name="2026", pts=SCFI_2026, color=REDL)],
         legend=[(413, 446, 1592, 450, "2022", BLU), (486, 518, 1592, 521, "2023", GRN), (557, 591, 1592, 593, "2024", YEL),
                 (628, 661, 1592, 664, "2025", BLK), (698, 732, 1592, 736, "2026", REDL)]),
    dict(title="SCFI（欧线）运价（剔除20-24年）", tx=982, ty=1332, size=17, box=(848, 1359, 1141, 1550), ymax=1500, dtick=500, w=2.8, rot=True,
         ytitle=(803, 1448),
         series=[dict(name="2015", pts=SCFI_2015, color="#9DC3E6"), dict(name="2016", pts=SCFI_2016, color="#ED7D31"), dict(name="2017", pts=SCFI_2017, color="#EDEDED"),
                 dict(name="2018", pts=SCFI_2018, color=GRY), dict(name="2019", pts=SCFI_2019, color="#A9D18E")],
         legend=[(790, 824, 1598, 827, "2015", "#9DC3E6"), (864, 898, 1598, 901, "2016", "#ED7D31"), (938, 972, 1598, 976, "2017", "#EDEDED"),
                 (1013, 1047, 1598, 1050, "2018", GRY), (1087, 1122, 1598, 1124, "2019", "#A9D18E")]),
    route("TCI（欧线）运价指数", 1361, 1338, (1238, 1356, 1554, 1533), 4000,
          [TCI_2022, TCI_2023, TCI_2024, TCI_2025, TCI_2026], ["#9E2A9E", "#3FA435", "#808080", BLK, REDL], (1183, 1445),
          [(1197, 1231, 1233, 1584), (1269, 1303, 1305, 1584), (1340, 1374, 1377, 1584), (1413, 1446, 1449, 1584), (1485, 1518, 1521, 1584)]),
    route("地东", 209, 1682, (69, 1698, 381, 1882), 5000,
          [MED_E_2022, MED_E_2023, MED_E_2024, MED_E_2025, MED_E_2026], STD, (26, 1791),
          [(23, 56, 60, 1930), (98, 132, 134, 1930), (173, 207, 210, 1930), (248, 282, 285, 1930), (324, 357, 360, 1930)]),
    route("地西", 596, 1687, (453, 1707, 769, 1882), 5000,
          [MED_W_2022, MED_W_2023, MED_W_2024, MED_W_2025, MED_W_2026], STD, (417, 1794),
          [(413, 446, 449, 1933), (488, 521, 524, 1933), (563, 597, 599, 1933), (639, 672, 674, 1933), (714, 747, 750, 1933)]),
    route("美西", 981, 1690, (852, 1709, 1160, 1874), 4000,
          [USW_2022, USW_2023, USW_2024, USW_2025, USW_2026], [YEL, GRN, "#808080", BLK, REDL], (804, 1792),
          [(800, 834, 837, 1925), (876, 909, 913, 1925), (952, 985, 989, 1925), (1027, 1061, 1065, 1925), (1103, 1137, 1139, 1925)]),
    route("美东", 1377, 1686, (1246, 1707, 1553, 1875), 5000,
          [USE_2022, USE_2023, USE_2024, USE_2025, USE_2026], [YEL, GRN, "#808080", BLK, REDL], (1195, 1792),
          [(1207, 1240, 1242, 1926), (1279, 1313, 1316, 1926), (1352, 1385, 1389, 1926), (1425, 1458, 1461, 1926), (1499, 1531, 1533, 1926)]),
    route("南美西", 210, 1989, (65, 2006, 381, 2172), 5000,
          [SAW_2022, SAW_2023, SAW_2024, SAW_2025, SAW_2026], STD, (30, 2089),
          [(24, 59, 62, 2225), (98, 132, 135, 2225), (172, 206, 208, 2225), (245, 278, 281, 2225), (317, 352, 355, 2225)]),
    route("南美东", 603, 1988, (453, 2012, 761, 2177), 5000,
          [SAE_2022, SAE_2023, SAE_2024, SAE_2025, SAE_2026], STD, (414, 2095),
          [(410, 441, 445, 2227), (485, 516, 519, 2227), (560, 591, 594, 2227), (634, 666, 669, 2227), (709, 741, 745, 2227)]),
    route("波斯湾", 993, 1992, (841, 2007, 1160, 2185), 4000,
          [PG_2022, PG_2023, PG_2024, PG_2025, PG_2026], STD, (804, 2096),
          [(802, 835, 838, 2230), (877, 911, 913, 2230), (953, 987, 990, 2230), (1028, 1061, 1065, 2230), (1104, 1137, 1140, 2230)]),
    route("西非", 1370, 1992, (1233, 2008, 1551, 2189), 5000,
          [WAF_2022, WAF_2023, WAF_2024, WAF_2025, WAF_2026], [BLU, "#F2CDB0", GRY, BLK, REDL], (1196, 2098),
          [(1195, 1229, 1232, 2232), (1270, 1303, 1307, 2232), (1343, 1377, 1381, 2232), (1419, 1452, 1455, 2232), (1493, 1527, 1529, 2232)]),
]

fig = go.Figure()
layout_axes = {}

for n, p in enumerate(PANELS, start=1):
    x0, y0, x1, y1 = p["box"]
    ymin = p.get("ymin", 0)
    xname, yname = f"x{n}", f"y{n}"
    xkey, ykey = f"xaxis{n}", f"yaxis{n}"
    for s in p["series"]:
        if p.get("cat"):
            xs, ys = TENORS, s["y"]
        else:
            xs = [q[0] for q in s["pts"]]
            ys = [q[1] for q in s["pts"]]
        fig.add_trace(go.Scatter(x=xs, y=ys, name=s["name"], mode="lines", xaxis=xname, yaxis=yname, showlegend=False,
                                 line=dict(color=s["color"], width=s.get("w", p["w"]), dash=s.get("dash", "solid"))))
    grid = p.get("grid", False)
    line_col = GRID if grid else "#000000"
    axis_w = p.get("axis_w", 1.5)
    tick_font = dict(family=FONT, size=14, color=AXIS_GREY)
    if p.get("cat"):
        xax = dict(type="category", range=[-0.5, 4.5], showgrid=False, showline=True, linecolor=GRID, linewidth=1.5,
                   ticks="", tickfont=tick_font, ticklabelstandoff=10)
    else:
        xax = dict(type="linear", range=[0, 12], tickmode="array", tickvals=list(range(12)), ticktext=MONTHS, showgrid=False,
                   showline=True, linecolor=line_col, linewidth=2.5 if grid else axis_w,
                   ticks="outside" if grid else "", ticklen=4, tickcolor=GRID, tickfont=tick_font,
                   tickangle=-90 if p.get("rot") else 0, ticklabelstandoff=8 if p.get("rot") else 10)
    xax.update(domain=[px(x0), px(x1)], anchor=yname, zeroline=False, fixedrange=True, automargin=False)
    yax = dict(domain=[py(y1), py(y0)], anchor=xname, range=[ymin, p["ymax"]], tick0=ymin, dtick=p["dtick"], tickmode="linear",
               showgrid=grid, gridcolor=GRID, gridwidth=1.5, zeroline=False, showline=not grid, linecolor="#000000", linewidth=axis_w,
               ticks="", tickfont=tick_font, ticklabelstandoff=12, tickformat=p.get("fmt", "d"), fixedrange=True, automargin=False)
    layout_axes[xkey] = xax
    layout_axes[ykey] = yax

    text(p["tx"], p["ty"], p["title"], size=p.get("size", 19), color=AXIS_GREY, anchor="center", font=CJK)
    if "lab" in p:
        text(p["lab"][0], p["lab"][1], "点", size=14, color=AXIS_GREY, anchor="center", font=CJK, angle=-90)
    if "ytitle" in p:
        text(p["ytitle"][0], p["ytitle"][1], "美元/TEU", size=15, color=AXIS_GREY, anchor="center", font=CJK, angle=-90)
    h = p.get("leg_h", 3)
    for a, b, ly, lx, lab_text, col in p["legend"]:
        rect(a, ly - h / 2, b, ly + h / 2, col)
        text(lx, ly, lab_text, size=14, color=AXIS_GREY)
    for d1, d2, ly, lx, lab_text, col in p.get("dashes", []):
        rect(d1[0], ly - 2, d1[1], ly + 2, col)
        rect(d2[0], ly - 2, d2[1], ly + 2, col)
        text(lx, ly, lab_text, size=14, color=AXIS_GREY, font=FONT)

# contact code on its own small axes
qn = len(PANELS) + 1
qr_matrix = [[int(c) for c in row[:29].ljust(29, "0")] for row in QR_ROWS]
fig.add_trace(go.Heatmap(z=qr_matrix, xaxis=f"x{qn}", yaxis=f"y{qn}", showscale=False, hoverinfo="skip",
                         colorscale=[[0, "#FFFFFF"], [1, "#111111"]], zmin=0, zmax=1))
layout_axes[f"xaxis{qn}"] = dict(domain=[px(1422), px(1505)], anchor=f"y{qn}", visible=False, fixedrange=True, automargin=False)
layout_axes[f"yaxis{qn}"] = dict(domain=[py(2412), py(2332)], anchor=f"x{qn}", visible=False, autorange="reversed", fixedrange=True, automargin=False)
rect(1459, 2367, 1468, 2377, "#C8323A", layer="above")

fig.update_layout(width=W, height=H, autosize=False, margin=dict(l=0, r=0, t=0, b=0, pad=0, autoexpand=False),
                  paper_bgcolor="white", plot_bgcolor="rgba(0,0,0,0)", showlegend=False,
                  font=dict(family=FONT), shapes=shapes, annotations=notes, hovermode=False, **layout_axes)
# the page body carries the browser's default margin unless it is cleared
fig.write_html("out.html", post_script="document.documentElement.style.margin='0';document.body.style.margin='0';")
